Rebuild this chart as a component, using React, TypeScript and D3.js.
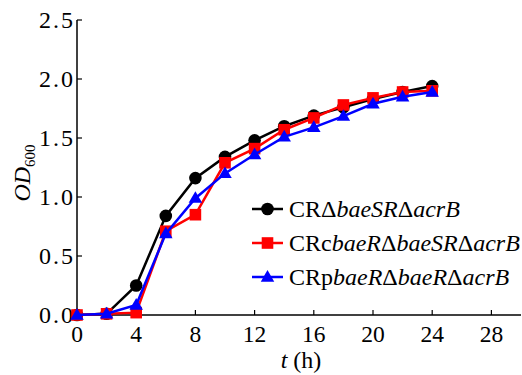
import React from "react";
import * as d3 from "d3";

const times = [0, 2, 4, 6, 8, 10, 12, 14, 16, 18, 20, 22, 24];
const blackSeries = [0, 0.01, 0.25, 0.84, 1.16, 1.34, 1.48, 1.6, 1.69, 1.76, 1.83, 1.89, 1.94];
const redSeries = [0, 0.01, 0.02, 0.71, 0.85, 1.29, 1.41, 1.57, 1.67, 1.78, 1.84, 1.89, 1.9];
const blueSeries = [0, 0.01, 0.085, 0.69, 0.99, 1.2, 1.36, 1.51, 1.59, 1.685, 1.79, 1.85, 1.89];
const xTicks = [0, 4, 8, 12, 16, 20, 24, 28];
const yTicks = [0, 0.5, 1.0, 1.5, 2.0, 2.5];

type Part = { t: string; i?: boolean };
const legendLabels: Part[][] = [
  [{ t: "CRΔ" }, { t: "baeSR", i: true }, { t: "Δ" }, { t: "acrB", i: true }],
  [{ t: "CRc" }, { t: "baeR", i: true }, { t: "Δ" }, { t: "baeSR", i: true }, { t: "Δ" }, { t: "acrB", i: true }],
  [{ t: "CRp" }, { t: "baeR", i: true }, { t: "Δ" }, { t: "baeR", i: true }, { t: "Δ" }, { t: "acrB", i: true }],
];
const seriesColors = ["#000000", "#ff0000", "#0000ff"];
const seriesShapes = ["circle", "square", "triangle"];

const W = 522;
const H = 375;
const ts = { fontFamily: "Liberation Serif" };

function Marker({ shape, x, y, color }: { shape: string; x: number; y: number; color: string }) {
  if (shape === "circle") return <circle cx={x} cy={y} r={6.3} fill={color} />;
  if (shape === "square") return <rect x={x - 5.8} y={y - 5.8} width={11.6} height={11.6} fill={color} />;
  const s = 13.5;
  const h = (s * Math.sqrt(3)) / 2;
  return <path d={`M${x},${y - h * 0.6}L${x + s / 2},${y + h * 0.4}L${x - s / 2},${y + h * 0.4}Z`} fill={color} />;
}

export default function App() {
  const x = d3.scaleLinear().domain([0, 30]).range([77, 521]);
  const y = d3.scaleLinear().domain([0, 2.5]).range([315, 20]);
  const series = [blackSeries, redSeries, blueSeries];
  const line = d3
    .line<number>()
    .x((_, i) => x(times[i]))
    .y((d) => y(d));

  return (
    <div style={{ position: "absolute", left: 0, top: 0 }}>
      <svg width={W} height={H}>
        <rect x={0} y={0} width={W} height={H} fill="#fff" />
        {/* axes */}
        <line x1={x(0)} x2={x(30)} y1={y(0)} y2={y(0)} stroke="#000" strokeWidth={1.5} />
        <line x1={x(0)} x2={x(0)} y1={y(0)} y2={y(2.5)} stroke="#000" strokeWidth={1.5} />
        {xTicks.map((t) => (
          <g key={"xt" + t}>
            <line x1={x(t)} x2={x(t)} y1={y(0)} y2={y(0) - 5} stroke="#000" strokeWidth={1.2} />
            <text x={x(t)} y={342} fontSize={23.5} textAnchor="middle" style={ts}>
              {t}
            </text>
          </g>
        ))}
        {yTicks.map((t) => (
          <g key={"yt" + t}>
            <line x1={x(0)} x2={x(0) + 5} y1={y(t)} y2={y(t)} stroke="#000" strokeWidth={1.2} />
            <text x={75} y={y(t) + 8} fontSize={24} textAnchor="end" letterSpacing={2} style={ts}>
              {t.toFixed(1)}
            </text>
          </g>
        ))}
        {/* axis titles */}
        <text x={301} y={368} fontSize={24} textAnchor="middle" style={ts}>
          <tspan fontStyle="italic">t</tspan>
          <tspan> (h)</tspan>
        </text>
        <text transform="translate(30,173) rotate(-90)" fontSize={24} textAnchor="middle" style={ts}>
          <tspan fontStyle="italic">OD</tspan>
          <tspan fontSize={15} dy={5}>600</tspan>
        </text>
        {/* series */}
        {series.map((s, k) => (
          <g key={"s" + k}>
            <path d={line(s) || ""} fill="none" stroke={seriesColors[k]} strokeWidth={2.5} />
            {s.map((v, i) => (
              <Marker key={i} shape={seriesShapes[k]} x={x(times[i])} y={y(v)} color={seriesColors[k]} />
            ))}
          </g>
        ))}
        {/* legend */}
        {legendLabels.map((parts, k) => {
          const cy = 209 + k * 34;
          return (
            <g key={"lg" + k}>
              <line x1={252} x2={283} y1={cy} y2={cy} stroke={seriesColors[k]} strokeWidth={2.5} />
              <Marker shape={seriesShapes[k]} x={267.5} y={cy} color={seriesColors[k]} />
              <text x={289} y={cy + 8} fontSize={24} style={ts}>
                {parts.map((p, j) => (
                  <tspan key={j} fontStyle={p.i ? "italic" : "normal"}>
                    {p.t}
                  </tspan>
                ))}
              </text>
            </g>
          );
        })}
      </svg>
    </div>
  );
}
